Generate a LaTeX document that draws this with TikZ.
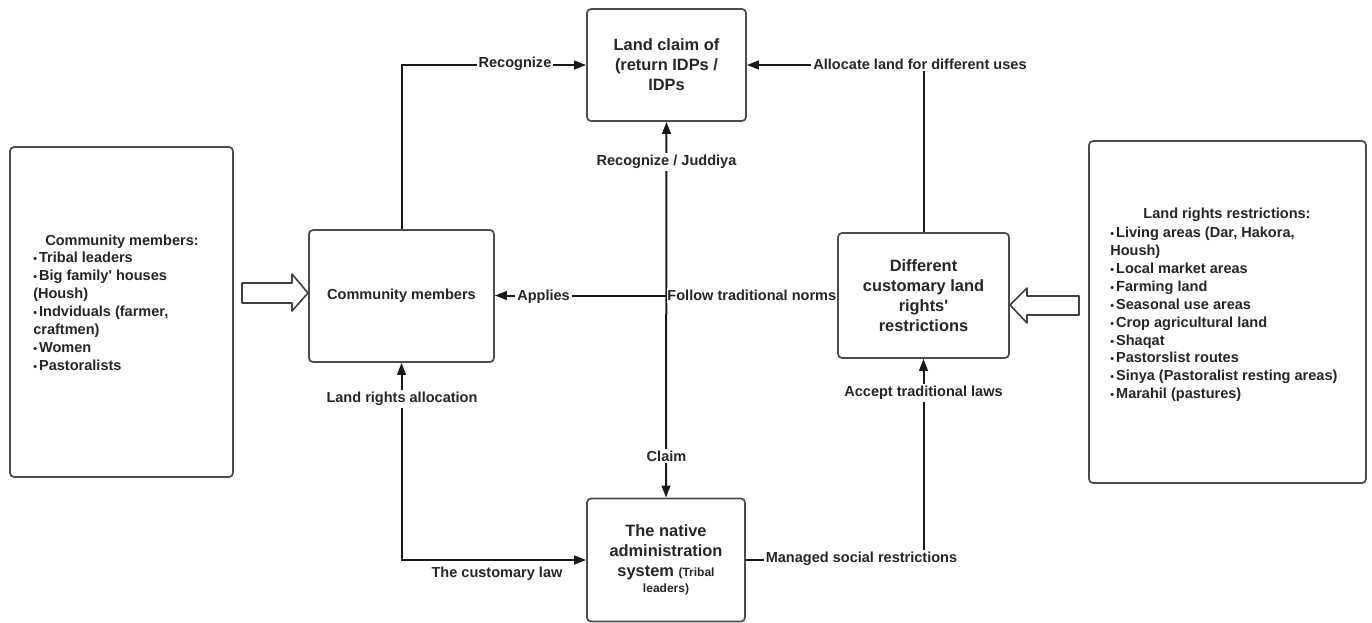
\documentclass[tikz,border=0pt]{standalone}
\usepackage{fontspec}
\setmainfont{Liberation Sans}
\usetikzlibrary{arrows.meta}
% small bullet used in the two lists
\newcommand\listdot{{\fontsize{8}{8}\selectfont•}\hspace{1.6pt}}
\begin{document}
\begin{tikzpicture}[x=0.75pt,y=-0.75pt,
  font=\bfseries\fontsize{10.9}{13.4}\selectfont, text=black!85,
  box/.style={draw=black!70, line width=1.3pt, rounded corners=3pt, fill=white, inner sep=0pt},
  boxtitle/.style={font=\bfseries\fontsize{12.3}{15}\selectfont, align=center},
  tip/.tip={Triangle[length=9pt,width=6.5pt]},
  link/.style={line width=1.5pt, draw=black!90},
  lbl/.style={fill=white, inner sep=1.5pt},
  fatarrow/.style={draw=black!75, line width=1.2pt, fill=white, line join=round},
]
\useasboundingbox (0,0) rectangle (1372,622);

% ---- side panels ----
\node[box, minimum width=223*0.75pt, minimum height=330*0.75pt] (members) at (121.5,312) {};
\node (memberstitle) at (122,242) {Community members:};
\node[anchor=north west, align=left, inner sep=0pt] (memberslist) at (33,252)
  {\listdot Tribal leaders\\\listdot Big family\textquotesingle{} houses\\(Housh)\\\listdot Indviduals (farmer,\\craftmen)\\\listdot Women\\\listdot Pastoralists};

\node[box, minimum width=277*0.75pt, minimum height=342*0.75pt] (rules) at (1227.5,312) {};
\node (rulestitle) at (1227,215) {Land rights restrictions:};
\node[anchor=north west, align=left, inner sep=0pt] (ruleslist) at (1110,227)
  {\listdot Living areas (Dar, Hakora,\\Housh)\\\listdot Local market areas\\\listdot Farming land\\\listdot Seasonal use areas\\\listdot Crop agricultural land\\\listdot Shaqat\\\listdot Pastorslist routes\\\listdot Sinya (Pastoralist resting areas)\\\listdot Marahil (pastures)};

% ---- central boxes ----
\node[box, minimum width=185*0.75pt, minimum height=132*0.75pt] (comm) at (401.5,296) {Community members};
\node[box, boxtitle, minimum width=159*0.75pt, minimum height=112*0.75pt] (claim) at (666.5,65)
  {Land claim of\\(return IDPs /\\IDPs};
\node[box, boxtitle, minimum width=171*0.75pt, minimum height=125*0.75pt] (diff) at (923.5,295.5)
  {Different\\customary land\\rights\textquotesingle\\restrictions};
\node[box, boxtitle, minimum width=158*0.75pt, minimum height=123*0.75pt] (native) at (666,560)
  {The native\\administration\\system {\fontsize{9}{11}\selectfont(Tribal}\\[-3pt]{\fontsize{9}{11}\selectfont leaders)}};

% ---- hollow block arrows ----
\draw[fatarrow] (308,293) -- (292,274) -- (292,283) -- (242,283) -- (242,303) -- (292,303) -- (292,311) -- cycle;
\draw[fatarrow] (1010,305) -- (1027,288) -- (1027,296) -- (1079,296) -- (1079,315) -- (1027,315) -- (1027,323) -- cycle;

% ---- connectors ----
\draw[link, -tip] (comm.north) |- (claim.west);
\draw[link, -tip] (diff.north) |- (claim.east);
\draw[link, tip-tip] (claim.south) -- (native.north);
\draw[link, -tip] (diff.west) -- (comm.east |- diff.west);
\draw[link, tip-tip] (native.west) -| (comm.south);
\draw[link, -tip] (native.east) -| (diff.south);

% ---- connector labels ----
\node[lbl] (lrec) at (515,64) {Recognize};
\node[lbl] (lalloc) at (920,64) {Allocate land for different uses};
\node[lbl] (ljud) at (666.5,162) {Recognize / Juddiya};
\node[lbl] (lclaim) at (666.5,456) {Claim};
\node[lbl, anchor=east, inner xsep=0.5pt] (lfollow) at (diff.west) {Follow traditional norms};
\node[lbl] (lapplies) at (543.5,297) {Applies};
\node[lbl] (lland) at (402,399) {Land rights allocation};
\node (lcust) at (497,574) {The customary law};
\node[lbl] (lmanaged) at (861.5,559) {Managed social restrictions};
\node[lbl] (laccept) at (923.5,393) {Accept traditional laws};
\end{tikzpicture}
\end{document}
